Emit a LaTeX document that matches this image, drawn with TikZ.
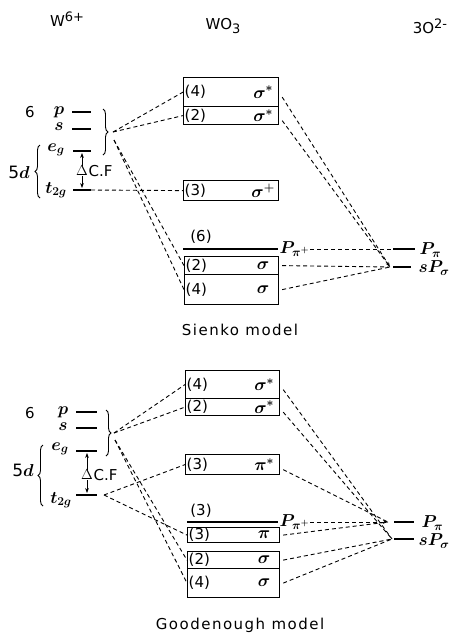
\documentclass[tikz,border=0pt]{standalone}
\usepackage{fontspec}
\setmainfont{DejaVu Sans}
\newfontfamily\captionfont[LetterSpace=10]{DejaVu Sans}
\usetikzlibrary{decorations.pathreplacing,arrows.meta,calc}

% one molecular-orbital box: name, x, y (top left), width, height, count, symbol
\newcommand\orbbox[7]{%
  \node[mobox, minimum width=#4pt, minimum height=#5pt] (#1) at (#2,#3) {};
  \node[lbl, anchor=west] (#1-n) at ($(#1.west)+(1,0)$) {#6};
  \node[mlbl] (#1-s) at ($(#1.east)+(-16,0)$) {#7};
}

\begin{document}
\begin{tikzpicture}[x=1pt,y=-1pt,
  mobox/.style={draw, line width=1.2pt, anchor=north west, inner sep=0pt},
  conn/.style={dash pattern=on 4pt off 3pt, line width=0.9pt},
  lev/.style={line width=1.3pt},
  lbl/.style={font=\fontsize{15}{17}\selectfont, inner sep=0.5pt},
  mlbl/.style={font=\fontsize{17}{19}\selectfont\boldmath, inner sep=0.5pt},
  ttl/.style={font=\fontsize{15}{17}\selectfont, inner sep=0pt},
  modelcap/.style={font=\captionfont\fontsize{15}{17}\selectfont, inner sep=0pt},
  brc/.style={decorate, decoration={brace, amplitude=5pt}, line width=0.9pt},
  cf/.style={{Stealth[length=5pt]}-{Stealth[length=5pt]}, line width=0.9pt},
  endtip/.style={-{Stealth[length=5pt,width=3.5pt]}},
]
\useasboundingbox (0,0) rectangle (456,633);

% ---------- column headings ----------
\node[ttl] (hW) at (67,19) {W\raisebox{5pt}{\fontsize{13}{15}\selectfont 6+}};
\node[ttl] (hWO) at (223,26) {WO\raisebox{-4pt}{\fontsize{13}{15}\selectfont 3}};
\node[ttl] (hO) at (430,26) {3O\raisebox{5pt}{\fontsize{13}{15}\selectfont 2-}};

% =================== Sienko model ===================
% W 6+ levels
\node[lbl] (s6) at (30,112) {6};
\node[mlbl] (sp) at (59,112) {$p$};
\node[mlbl] (ss) at (59,127) {$s$};
\node[mlbl] (seg) at (56,150) {$e_g$};
\node[mlbl] (st) at (56,190) {$t_{2g}$};
\node[mlbl] (s5d) at (19,172) {\textmd{5}$d$};
\coordinate (spL) at (72,112); \coordinate (spR) at (91,112);
\coordinate (ssL) at (72,129); \coordinate (ssR) at (91,129);
\coordinate (segL) at (73,151); \coordinate (segR) at (91,151);
\coordinate (stL) at (73,190); \coordinate (stR) at (91,190);
\draw[lev] (spL) -- (spR);
\draw[lev] (ssL) -- (ssR);
\draw[lev] (segL) -- (segR);
\draw[lev] (stL) -- (stR);
\draw[brc] (40,198) -- (40,145);
\draw[brc] (103,109) -- (103,155);
\draw[cf] (82,153) -- (82,188);
\node[lbl, fill=white, inner sep=0pt] (sdel) at (82,171) {$\Delta$};
\node[lbl, anchor=west] (scf) at (88,171) {C.F};
\coordinate (sc) at (113,132);
\coordinate (sc2) at (114,140);

% WO3 orbitals
\orbbox{sA}{183}{77}{95}{29}{(4)}{$\sigma^{*}$}
\orbbox{sB}{183}{106}{95}{18}{(2)}{$\sigma^{*}$}
\orbbox{sC}{183}{180}{95}{20}{(3)}{$\sigma^{+}$}
\orbbox{sD}{184}{256}{94}{18}{(2)}{$\sigma$}
\orbbox{sE}{184}{274}{94}{30}{(4)}{$\sigma$}
\coordinate (s6L) at (183,249); \coordinate (s6R) at (278,249);
\draw[lev] (s6L) -- (s6R);
\node[lbl] (s6n) at (201,237) {(6)};
\node[mlbl, anchor=west] (spp) at (279,249) {$P_{\pi^{+}}$};

% O 2- levels
\coordinate (sPL) at (393,249); \coordinate (sPR) at (415,249);
\coordinate (sSL) at (393,267); \coordinate (sSR) at (411,267);
\coordinate (sS) at (390,267);
\draw[lev] (sPL) -- (sPR);
\draw[lev] (sSL) -- (sSR);
\node[mlbl, anchor=west] (sPlab) at (419,250) {$P_{\pi}$};
\node[mlbl, anchor=west] (sSlab) at (418,268) {$sP_{\sigma}$};

% correlation lines
\draw[conn] (sc) -- (sA.west);
\draw[conn] (sc) -- (sB.west);
\draw[conn] (sc2) -- (sD.west);
\draw[conn] (sc2) -- (sE.west);
\draw[conn] (stR) -- (sC.west);
\draw[conn] (spp.east) -- (sPL);
\draw[conn] ($(sD.east)+(3,0)$) -- (sS);
\draw[conn] ($(sE.east)+(3,0)$) -- (sS);
\draw[conn, endtip] ($(sA.east)+(3,5)$) -- (sS);
\draw[conn] ($(sB.east)+(3,5)$) -- (sS);

\node[modelcap] (sienko) at (240,330) {Sienko model};

% =================== Goodenough model ===================
\node[lbl] (g6) at (30,413) {6};
\node[mlbl] (gp) at (63,412) {$p$};
\node[mlbl] (gs) at (63,427) {$s$};
\node[mlbl] (geg) at (60,449) {$e_g$};
\node[mlbl] (gt) at (61,500) {$t_{2g}$};
\node[mlbl] (g5d) at (23,470) {\textmd{5}$d$};
\coordinate (gpL) at (76,412); \coordinate (gpR) at (97,412);
\coordinate (gsL) at (76,428); \coordinate (gsR) at (97,428);
\coordinate (gegL) at (76,451); \coordinate (gegR) at (97,451);
\coordinate (gtL) at (76,495); \coordinate (gtR) at (97,495);
\draw[lev] (gpL) -- (gpR);
\draw[lev] (gsL) -- (gsR);
\draw[lev] (gegL) -- (gegR);
\draw[lev] (gtL) -- (gtR);
\draw[brc] (43,506) -- (43,445);
\draw[brc] (106,410) -- (106,456);
\draw[cf] (87,453) -- (87,493);
\node[lbl, fill=white, inner sep=0pt] (gdel) at (87,475) {$\Delta$};
\node[lbl, anchor=west] (gcf) at (93,475) {C.F};
\coordinate (gc) at (114,433);
\coordinate (gc2) at (115,440);
\coordinate (gt2) at (104,495);

\orbbox{gA}{185}{370}{94}{28}{(4)}{$\sigma^{*}$}
\orbbox{gB}{185}{398}{94}{17}{(2)}{$\sigma^{*}$}
\orbbox{gC}{185}{454}{94}{20}{(3)}{$\pi^{*}$}
\orbbox{gD}{187}{527}{92}{15}{(3)}{$\pi$}
\orbbox{gE}{187}{551}{92}{17}{(2)}{$\sigma$}
\orbbox{gF}{187}{568}{92}{29}{(4)}{$\sigma$}
\coordinate (g3L) at (187,522); \coordinate (g3R) at (278,522);
\draw[lev] (g3L) -- (g3R);
\node[lbl] (g3n) at (201,511) {(3)};
\node[mlbl, anchor=west] (gpp) at (279,522) {$P_{\pi^{+}}$};

\coordinate (gPL) at (394,522); \coordinate (gPR) at (414,522);
\coordinate (gSL) at (394,539); \coordinate (gSR) at (414,539);
\coordinate (gP) at (388,522);
\coordinate (gS) at (392,539);
\draw[lev] (gPL) -- (gPR);
\draw[lev] (gSL) -- (gSR);
\node[mlbl, anchor=west] (gPlab) at (421,523) {$P_{\pi}$};
\node[mlbl, anchor=west] (gSlab) at (418,541) {$sP_{\sigma}$};

\draw[conn] (gc) -- (gA.west);
\draw[conn] (gc) -- (gB.west);
\draw[conn] (gc2) -- (gE.west);
\draw[conn] (gc2) -- (gF.west);
\draw[conn] (gt2) -- (gC.west);
\draw[conn] (gt2) -- (gD.west);
\draw[conn, endtip] (gpp.east) -- (gP);
\draw[conn] ($(gD.east)+(3,0)$) -- (gP);
\draw[conn] ($(gC.east)+(3,5)$) -- (gP);
\draw[conn] ($(gE.east)+(3,0)$) -- (gS);
\draw[conn] ($(gF.east)+(3,0)$) -- (gS);
\draw[conn] ($(gA.east)+(3,5)$) -- (gS);
\draw[conn] ($(gB.east)+(3,5)$) -- (gS);

\node[modelcap] (good) at (240,625) {Goodenough model};
\end{tikzpicture}
\end{document}
